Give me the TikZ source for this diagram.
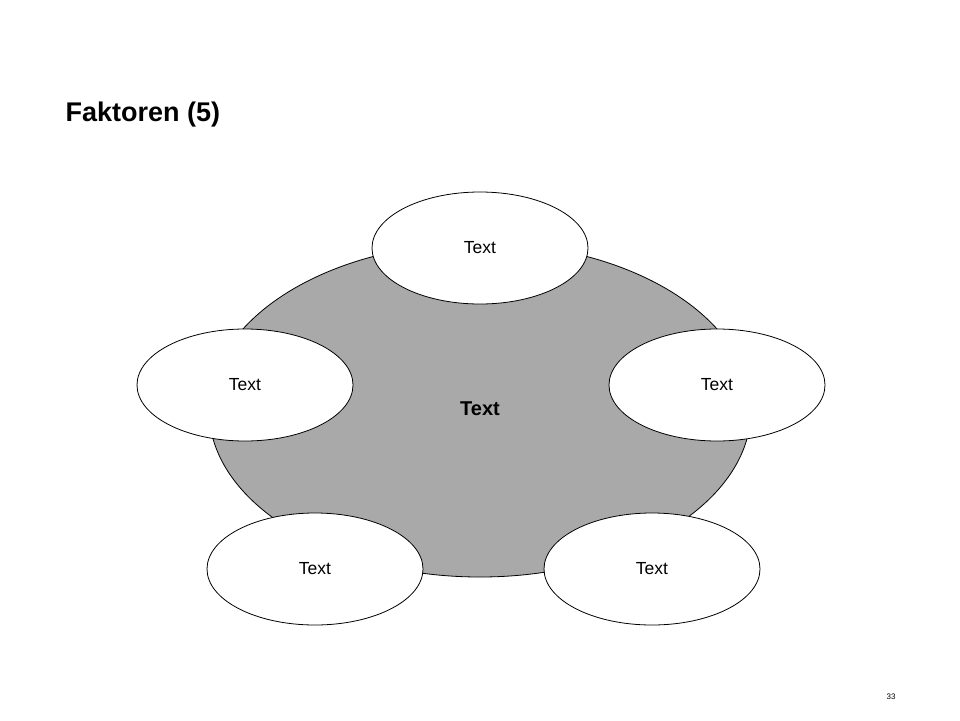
\documentclass[tikz,border=0pt]{standalone}
\usepackage{fontspec}
\setmainfont{Liberation Sans}
\usetikzlibrary{shapes.geometric}
\definecolor{hubgray}{RGB}{169,169,169}
\begin{document}
\begin{tikzpicture}[x=1pt,y=-1pt,
  hub/.style={ellipse,draw=black,line width=0.8pt,fill=hubgray,minimum width=542pt,minimum height=334pt,inner sep=0pt,font=\fontsize{20}{24}\selectfont\bfseries},
  factor/.style={ellipse,draw=black,line width=0.8pt,fill=white,minimum width=216pt,minimum height=112pt,inner sep=0pt,font=\fontsize{17.5}{21}\selectfont}]
\useasboundingbox (0,0) rectangle (960,720);
\node[anchor=west,font=\fontsize{27}{32}\selectfont\bfseries] (title) at (62,115) {Faktoren (5)};
\node[hub] (hub) at (480,410) {};
\node[font=\fontsize{20}{24}\selectfont\bfseries] (hubtext) at (480,409) {Text};
\node[factor] (top) at (480,248) {Text};
\node[factor] (left) at (245,385) {Text};
\node[factor] (right) at (717,385) {Text};
\node[factor] (bl) at (315,569) {Text};
\node[factor] (br) at (652,569) {Text};
\node[font=\fontsize{8}{10}\selectfont] (page) at (891,697) {33};
\end{tikzpicture}
\end{document}
